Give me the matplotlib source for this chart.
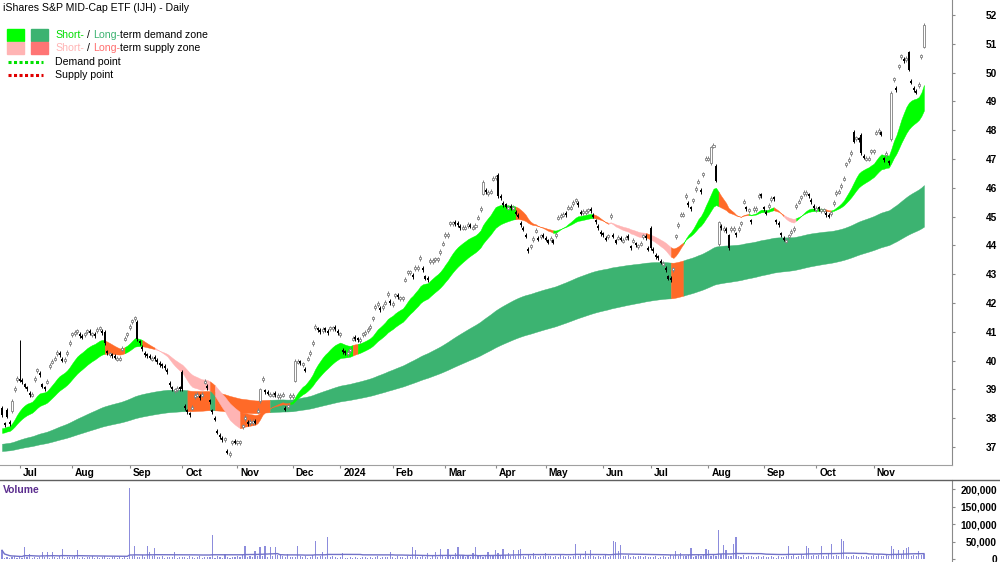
import numpy as np
import pandas as pd
import matplotlib
matplotlib.use("Agg")
import matplotlib.pyplot as plt
from matplotlib.lines import Line2D
from matplotlib.patches import Rectangle
from matplotlib.ticker import FuncFormatter

plt.rcParams['font.family'] = ['Liberation Sans', 'DejaVu Sans']

# ---------------- data ----------------
holidays = ["2023-12-25", "2023-12-26", "2024-01-01", "2024-01-26",
            "2024-03-29", "2024-04-01", "2024-04-25", "2024-06-10"]

close_jun23 = [38.1, 37.75, 38.05, 37.8, 38.6, 39.05, 39.4]
close_jul23 = [39.3, 39.25, 39.1, 39.0, 38.8, 38.85, 39.4, 39.7, 39.5, 39.1, 39.0,
               39.3, 39.85, 40.0, 40.1, 40.3, 40.2, 40.0, 40.05, 40.3, 40.65]
close_aug23 = [40.95, 41.0, 41.05, 40.85, 40.8, 40.95, 41.05, 40.95, 40.95, 40.85, 41.1,
               41.15, 40.95, 40.6, 40.25, 40.25, 40.15, 40.1, 40.1, 40.1, 40.45, 40.8, 40.95]
close_sep23 = [41.2, 41.4, 41.5, 40.75, 40.6, 40.4, 40.2, 40.15, 40.1, 40.1, 40.05,
               39.95, 39.85, 39.8, 39.75, 39.6, 39.15, 39.0, 39.0, 39.05, 39.0]
close_oct23 = [39.0, 38.35, 38.2, 38.1, 38.4, 38.8, 38.85, 38.7, 38.85, 39.3, 39.05,
               38.55, 38.2, 37.95, 37.5, 37.35, 37.25, 37.3, 36.8, 36.8, 37.2, 37.15]
close_nov23 = [37.2, 37.2, 37.75, 38.05, 37.8, 37.9, 37.9, 37.85, 38.3, 39.0, 39.4,
               38.9, 38.85, 38.85, 38.85, 38.8, 38.8, 38.8, 38.85, 38.3, 38.45, 38.8]
close_dec23 = [38.8, 40.0, 40.0, 39.9, 39.9, 39.65, 40.1, 40.3, 40.65, 41.2, 41.05,
               41.0, 41.1, 41.05, 40.95, 41.15, 41.15, 41.1, 40.95]
close_jan24 = [40.95, 40.3, 40.25, 40.3, 40.4, 40.8, 40.75, 40.7, 40.75, 40.95, 41.0,
               41.1, 41.2, 41.5, 41.9, 42.0, 41.75, 41.9, 42.05, 42.35, 42.0]
close_feb24 = [42.0, 42.3, 42.2, 42.2, 42.2, 42.85, 43.1, 43.1, 42.9, 43.25, 43.25,
               43.6, 43.15, 42.85, 42.8, 43.5, 43.5, 43.55, 43.55, 43.8, 44.1]
close_mar24 = [44.4, 44.4, 44.8, 44.8, 44.75, 44.7, 44.6, 44.65, 44.65, 44.75,
               44.65, 44.65, 44.7, 45.0, 45.3, 46.2, 45.85, 45.85, 45.9, 46.35]
close_apr24 = [46.4, 45.7, 45.65, 45.4, 45.35, 45.35, 45.3, 45.35, 45.1, 45.0,
               44.7, 44.55, 44.3, 43.8, 44.0, 44.25, 44.55, 44.2, 44.35, 44.3]
close_may24 = [44.2, 44.1, 44.25, 44.1, 44.4, 45.0, 45.05, 45.1, 45.05, 45.35, 45.35,
               45.5, 45.6, 45.4, 45.1, 45.2, 45.2, 45.25, 45.2, 45.0, 44.8, 44.6, 44.4]
close_jun24 = [44.35, 44.2, 44.35, 45.05, 44.3, 44.1, 44.3, 44.2, 44.2, 44.3,
               44.25, 43.9, 44.2, 44.0, 44.0, 44.1, 44.35, 44.25, 43.85]
close_jul24 = [43.9, 43.8, 43.6, 43.55, 43.4, 43.4, 43.15, 42.85, 42.8, 43.2, 44.35,
               44.75, 45.1, 45.1, 45.75, 45.4, 45.25, 45.6, 46.0, 46.25, 45.85, 46.5, 47.05]
close_aug24 = [47.05, 47.4, 47.5, 46.25, 44.8, 44.6, 44.6, 44.5, 43.9, 44.6, 44.6,
               44.35, 44.6, 44.8, 45.55, 45.25, 45.25, 44.8, 45.3, 45.3, 45.75, 45.7]
close_sep24 = [45.25, 45.1, 45.4, 45.65, 45.6, 44.8, 44.7, 44.35, 44.2, 44.2, 44.35,
               44.5, 44.6, 45.4, 45.55, 45.7, 45.85, 45.85, 45.7, 45.5, 45.3]
close_oct24 = [45.3, 45.25, 45.25, 45.25, 45.05, 45.0, 45.15, 45.5, 45.85, 45.9, 46.1,
               46.35, 46.85, 47.0, 47.25, 47.6, 47.75, 47.65, 47.2, 47.05, 47.05, 47.05, 47.3]
close_nov24 = [47.3, 47.95, 48.0, 47.85, 46.95, 47.2, 46.85, 49.3, 49.8, 49.4, 50.25,
               50.6, 50.4, 50.5, 50.1, 49.65, 49.4, 49.3, 49.6, 50.6, 51.65]

# opens of the larger candles
big_opens = {"2023-06-22": 38.35, "2023-06-26": 38.3, "2023-06-28": 38.25,
             "2023-08-18": 41.0, "2023-09-06": 41.35,
             "2023-10-02": 39.6, "2023-11-14": 38.6, "2023-12-04": 39.3,
             "2024-03-22": 45.8, "2024-04-03": 46.45, "2024-07-01": 44.6,
             "2024-08-02": 46.85, "2024-08-06": 46.75, "2024-08-07": 44.05,
             "2024-08-13": 44.35, "2024-10-22": 47.95, "2024-10-25": 47.85,
             "2024-11-12": 47.7, "2024-11-21": 50.7, "2024-11-29": 50.9}
big_highs = {"2023-07-03": 40.7}

# volume, thousands
vol_jun23 = [26, 5, 8, 4, 6, 9, 5]
vol_jul23 = [7, 4, 35, 6, 15, 5, 8, 3, 6, 20, 7, 20, 5, 20, 6, 4, 9, 30, 5, 7, 6]
vol_aug23 = [6, 9, 26, 5, 7, 4, 8, 6, 10, 5, 7, 3, 6, 9, 5, 4, 7, 6, 5, 8, 4, 6, 5]
vol_sep23 = [205, 9, 38, 7, 6, 12, 8, 38, 20, 10, 32, 7, 6, 9, 5, 8, 6, 7, 20, 5, 8]
vol_oct23 = [6, 8, 5, 9, 7, 4, 6, 10, 5, 7, 8, 6, 70, 5, 9, 6, 4, 15, 7, 5, 8, 6]
vol_nov23 = [9, 7, 12, 38, 8, 10, 6, 24, 9, 35, 11, 38, 8, 35, 10, 35, 12, 15, 9, 8, 14, 7]
vol_dec23 = [8, 6, 38, 9, 7, 10, 5, 8, 12, 53, 7, 9, 20, 8, 65, 6, 10, 7, 5]
vol_jan24 = [6, 18, 5, 4, 7, 3, 6, 5, 4, 8, 6, 5, 7, 4, 6, 9, 5, 7, 6, 8, 20]
vol_feb24 = [7, 5, 9, 6, 8, 5, 10, 7, 35, 26, 8, 6, 9, 7, 18, 5, 10, 20, 8, 30, 9]
vol_mar24 = [8, 30, 10, 7, 18, 35, 9, 12, 8, 10, 7, 18, 35, 9, 11, 8, 10, 20, 12, 9]
vol_apr24 = [26, 18, 10, 30, 12, 18, 9, 26, 11, 26, 30, 10, 8, 12, 9, 18, 10, 7, 11, 9]
vol_may24 = [18, 9, 11, 7, 10, 8, 12, 9, 6, 10, 8, 11, 44, 9, 12, 8, 23, 10, 26, 9, 7, 11, 8]
vol_jun24 = [9, 12, 8, 10, 53, 50, 23, 41, 11, 9, 12, 8, 10, 7, 11, 9, 6, 10, 8]
vol_jul24 = [8, 6, 9, 5, 7, 10, 6, 8, 12, 9, 23, 11, 18, 10, 9, 12, 32, 8, 11, 14, 9, 12, 30]
vol_aug24 = [26, 10, 12, 9, 85, 14, 41, 26, 11, 9, 44, 65, 10, 8, 12, 7, 9, 11, 6, 8, 10, 7]
vol_sep24 = [9, 6, 8, 10, 7, 5, 9, 8, 6, 11, 38, 9, 12, 8, 10, 14, 11, 38, 32, 9, 12]
vol_oct24 = [10, 12, 38, 9, 11, 14, 44, 10, 12, 9, 59, 53, 11, 8, 10, 12, 9, 7, 11, 8, 10, 6, 9]
vol_nov24 = [12, 9, 14, 11, 10, 13, 9, 38, 30, 12, 26, 14, 26, 32, 35, 11, 13, 10, 23, 12, 15]

# zone settings (EMA spans and their starting values)
short_spans = (17, 32)
short_seed = (37.6, 37.45)
long_spans = (140, 250)
long_seed = (37.1, 36.85)

# zone colouring: o = long-term supply colour, p = short-term supply colour
short_segments = [("2023-08-18", "2023-08-29", "o"), ("2023-09-08", "2023-09-14", "o"),
                  ("2023-09-15", "2023-10-16", "p"), ("2023-10-17", "2023-10-18", "o"),
                  ("2023-10-19", "2023-11-01", "p"), ("2023-11-02", "2023-11-29", "o"),
                  ("2024-01-09", "2024-01-10", "o"), ("2024-04-12", "2024-05-03", "o"),
                  ("2024-05-28", "2024-06-04", "o"), ("2024-06-05", "2024-06-26", "p"),
                  ("2024-06-27", "2024-06-28", "o"), ("2024-07-01", "2024-07-10", "p"),
                  ("2024-07-11", "2024-07-17", "o"), ("2024-08-07", "2024-08-22", "o"),
                  ("2024-09-06", "2024-09-11", "o"), ("2024-09-12", "2024-09-18", "p"),
                  ("2024-10-04", "2024-10-08", "o")]
long_segments = [("2023-10-04", "2023-10-16", "o"), ("2023-10-19", "2023-11-17", "o"),
                 ("2024-07-11", "2024-07-17", "o")]

months = ["Jul", "Aug", "Sep", "Oct", "Nov", "Dec", "2024", "Feb", "Mar", "Apr",
          "May", "Jun", "Jul", "Aug", "Sep", "Oct", "Nov"]

# ---------------- build ----------------
closes = np.array(close_jun23 + close_jul23 + close_aug23 + close_sep23 + close_oct23 +
                  close_nov23 + close_dec23 + close_jan24 + close_feb24 + close_mar24 +
                  close_apr24 + close_may24 + close_jun24 + close_jul24 + close_aug24 +
                  close_sep24 + close_oct24 + close_nov24)
volume = 1000 * np.array(vol_jun23 + vol_jul23 + vol_aug23 + vol_sep23 + vol_oct23 +
                         vol_nov23 + vol_dec23 + vol_jan24 + vol_feb24 + vol_mar24 +
                         vol_apr24 + vol_may24 + vol_jun24 + vol_jul24 + vol_aug24 +
                         vol_sep24 + vol_oct24 + vol_nov24)

dates = pd.bdate_range("2023-06-22", "2024-11-29")
dates = dates[~dates.isin(pd.to_datetime(holidays))]
n = len(dates)
assert n == len(closes) == len(volume)
x = np.arange(n)

prev = np.r_[closes[0], closes[:-1]]
opens = np.where(closes < prev, closes + 0.07, closes - 0.07)
for d, o in big_opens.items():
    opens[dates.get_loc(pd.Timestamp(d))] = o
highs = np.maximum(opens, closes) + 0.06
lows = np.minimum(opens, closes) - 0.06
for d, h in big_highs.items():
    highs[dates.get_loc(pd.Timestamp(d))] = h


def ema(vals, span, seed):
    s = pd.Series(np.r_[seed, vals])
    return s.ewm(span=span, adjust=False).mean().to_numpy()[1:]


def states(segments):
    st = np.array(["d"] * n)
    for a, b, s in segments:
        st[(dates >= a) & (dates <= b)] = s
    return st


colors_short = {"d": "#00ff00", "p": "#ffb4b4", "o": "#ff6a28"}
colors_long = {"d": "#3cb371", "p": "#ffb4b4", "o": "#ff6a28"}

fig = plt.figure(figsize=(10, 5.62), dpi=100)
ax = fig.add_axes([0, 97 / 562, 0.952, 465 / 562])
axv = fig.add_axes([0, 0, 0.952, 82 / 562])


def fill_zone(lo, hi, st, cols, z):
    i = 0
    while i < n:
        j = i
        while j + 1 < n and st[j + 1] == st[i]:
            j += 1
        sl = slice(i, min(j + 2, n))
        c = cols[st[i]]
        ax.fill_between(x[sl], lo[sl], hi[sl], color=c, ec=c, lw=0.3, zorder=z)
        i = j + 1


long_a = ema(closes, long_spans[0], long_seed[0])
long_b = ema(closes, long_spans[1], long_seed[1])
short_a = ema(closes, short_spans[0], short_seed[0])
short_b = ema(closes, short_spans[1], short_seed[1])
fill_zone(long_b, long_a, states(long_segments), colors_long, 1)
fill_zone(short_b, short_a, states(short_segments), colors_short, 2)

# candles
up = closes >= opens
wick_col = np.where(up, "#808080", "black")
ax.vlines(x, lows, highs, colors=wick_col, lw=0.7, zorder=3)
body_lo = np.minimum(opens, closes)
body_h = np.maximum(np.abs(closes - opens), 0.07)
ax.bar(x[up], body_h[up], bottom=body_lo[up], width=0.8, facecolor="white",
       edgecolor="#808080", lw=0.6, zorder=4)
ax.bar(x[~up], body_h[~up], bottom=body_lo[~up], width=0.8, color="black",
       lw=0, zorder=4)

xmin, xmax = -0.8, 379.2
ax.set_xlim(xmin, xmax)
ax.set_ylim(36.375, 52.52)
for s in ["top", "left"]:
    ax.spines[s].set_visible(False)
ax.spines["right"].set_color("#8a8a8a")
ax.spines["bottom"].set_color("#a0a0a0")
ax.spines["bottom"].set_linewidth(0.8)

ax.yaxis.tick_right()
ax.set_yticks(range(37, 53))
ax.tick_params(axis="y", direction="out", length=2.2, color="#8a8a8a",
               pad=30.2, labelsize=7.3)
for lb in ax.get_yticklabels():
    lb.set_horizontalalignment("right")
    lb.set_fontweight("bold")

month_start = pd.Series(x, index=dates).groupby([dates.year, dates.month]).first().to_numpy()[1:]
ax.set_xticks(month_start)
ax.set_xticklabels([])
ax.tick_params(axis="x", direction="out", length=2.2, color="#8a8a8a")
for i, lab in zip(month_start, months):
    ax.annotate(lab, xy=(i, 0), xycoords=("data", "axes fraction"), xytext=(3, -8),
                textcoords="offset pixels", ha="left", va="center",
                fontsize=7.3, fontweight="bold", annotation_clip=False)

# volume
axv.bar(x, volume, width=0.45, color="#8c8cdc", lw=0)
axv.plot(x, pd.Series(volume).rolling(60, min_periods=1).mean(), color="#7272c8", lw=1)
axv.set_xlim(xmin, xmax)
axv.set_ylim(-7400, 226500)
axv.set_xticks([])
for s in ["bottom", "left", "top"]:
    axv.spines[s].set_visible(False)
axv.spines["right"].set_color("#8a8a8a")
axv.yaxis.tick_right()
axv.set_yticks([0, 50000, 100000, 150000, 200000])
axv.yaxis.set_major_formatter(FuncFormatter(lambda v, p: f"{int(v):,}"))
axv.tick_params(axis="y", direction="out", length=2.2, color="#8a8a8a",
                pad=30.2, labelsize=7.3)
for lb in axv.get_yticklabels():
    lb.set_horizontalalignment("right")
    lb.set_fontweight("bold")
axv.text(3 / 952, 1 - 10 / 82, "Volume", transform=axv.transAxes, color="#5b2d8e",
         fontsize=7.5, fontweight="bold", ha="left", va="center")
fig.add_artist(Line2D([0, 1], [82 / 562, 82 / 562], color="#606060", lw=1))


# title + legend
def fy(py):
    return 1 - py / 562


fig.text(3 / 1000, fy(8), "iShares S&P MID-Cap ETF (IJH) - Daily", fontsize=7.6,
         ha="left", va="center")
fig.add_artist(Rectangle((7 / 1000, fy(41)), 17 / 1000, 12 / 562, color="#00ff00"))
fig.add_artist(Rectangle((31 / 1000, fy(41)), 17 / 1000, 12 / 562, color="#3cb371"))
fig.add_artist(Rectangle((7 / 1000, fy(54)), 17 / 1000, 12 / 562, color="#ffb4b4"))
fig.add_artist(Rectangle((31 / 1000, fy(54)), 17 / 1000, 12 / 562, color="#ff7474"))
fig.add_artist(Line2D([8 / 1000, 43 / 1000], [fy(62)] * 2, color="#00e000", lw=2.2,
                      ls=(0, (1, 0.8))))
fig.add_artist(Line2D([8 / 1000, 43 / 1000], [fy(75)] * 2, color="#e00000", lw=2.2,
                      ls=(0, (1, 0.8))))


def colored_line(py, parts):
    t = fig.text(55 / 1000, fy(py), parts[0][0], color=parts[0][1], fontsize=7.6,
                 ha="left", va="center")
    for txt, col, gap in parts[1:]:
        t = ax.annotate(txt, xy=(1, 0), xycoords=t, xytext=(gap, 0),
                        textcoords="offset pixels", color=col, fontsize=7.6,
                        ha="left", va="bottom", annotation_clip=False)


colored_line(35, [("Short-", "#00dd00"), ("/", "black", 3), ("Long-", "#3cb371", 3),
                  ("term demand zone", "black", 0)])
colored_line(48, [("Short-", "#ffb4b4"), ("/", "black", 3), ("Long-", "#ff6e6e", 3),
                  ("term supply zone", "black", 0)])
fig.text(55 / 1000, fy(62), "Demand point", fontsize=7.6, ha="left", va="center")
fig.text(55 / 1000, fy(75), "Supply point", fontsize=7.6, ha="left", va="center")

fig.savefig("out.png", dpi=100)
